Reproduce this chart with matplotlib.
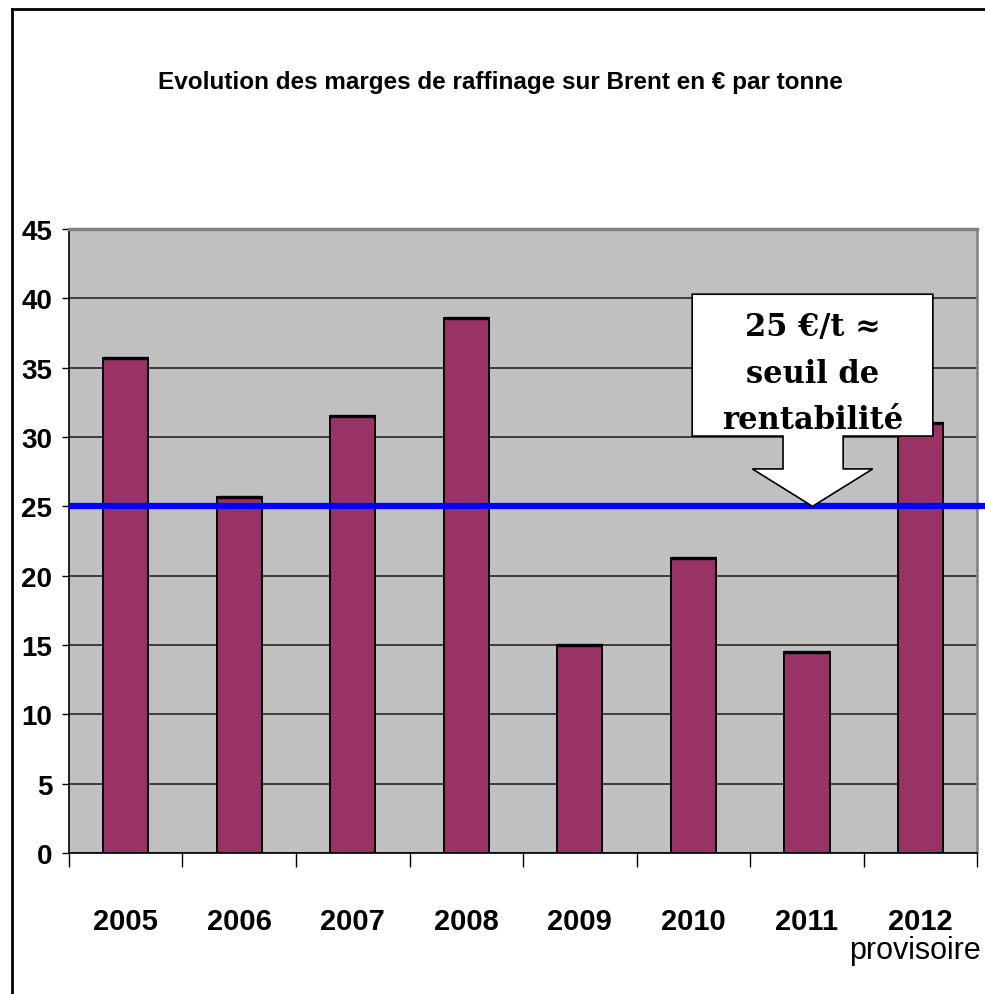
import numpy as np
import matplotlib
matplotlib.use("Agg")
import matplotlib.pyplot as plt
from matplotlib.patches import Polygon
from matplotlib.lines import Line2D

years = ['2005', '2006', '2007', '2008', '2009', '2010', '2011', '2012']
marges = [35.7, 25.7, 31.5, 38.6, 15.0, 21.3, 14.5, 31.0]
seuil = 25
y_ticks = list(range(0, 50, 5))

sans = ['Liberation Sans', 'DejaVu Sans']

fig = plt.figure(figsize=(9.85, 9.95), dpi=100)
ax = fig.add_axes([0.070, 0.1417, 0.922, 0.6271])

x = np.arange(len(years))
ax.set_facecolor('#C0C0C0')
ax.bar(x, marges, width=0.4, color='#993366', edgecolor='black', linewidth=1.4, zorder=3)
# thicker dark top on each bar
ax.hlines(marges, x - 0.2, x + 0.2, color='black', linewidth=2.4, zorder=4)

ax.set_xlim(-0.5, len(years) - 0.5)
ax.set_ylim(0, 45)
ax.set_yticks(y_ticks)
ax.set_yticklabels([str(v) for v in y_ticks], family=sans, fontweight='bold', fontsize=20)
ax.yaxis.grid(True, color='#1a1a1a', linewidth=1.1, zorder=1)
ax.set_axisbelow(True)

# category boundaries as ticks, labels in between
ax.set_xticks(np.arange(-0.5, len(years), 1.0))
ax.set_xticklabels([])
ax.set_xticks(x, minor=True)
ax.set_xticklabels(years, minor=True, family=sans, fontweight='bold', fontsize=21)
ax.tick_params(axis='x', which='major', length=10, width=1, direction='out')
ax.tick_params(axis='x', which='minor', length=0, pad=39)
ax.tick_params(axis='y', length=5, width=1, pad=7)

for s in ['left', 'bottom']:
    ax.spines[s].set_color('black')
    ax.spines[s].set_linewidth(1.2)
ax.spines['top'].set_color('#808080')
ax.spines['top'].set_linewidth(2.5)
ax.spines['right'].set_color('#808080')
ax.spines['right'].set_linewidth(1.8)

# 25 €/t line
ax.axhline(seuil, xmin=0.003, xmax=1.01, color='#0000FF', linewidth=4.5, zorder=5, clip_on=False)

# callout
callout = [(4.99, 40.3), (7.11, 40.3), (7.11, 30.07), (6.32, 30.07), (6.32, 27.7),
           (6.58, 27.7), (6.05, seuil), (5.52, 27.7), (5.79, 27.7), (5.79, 30.07),
           (4.99, 30.07)]
ax.add_patch(Polygon(callout, closed=True, facecolor='white', edgecolor='black',
                     linewidth=1.2, zorder=6))
ax.text(6.05, 34.6, '25 €/t ≈\nseuil de\nrentabilité', ha='center', va='center',
        family='DejaVu Serif', fontweight='bold', fontsize=22, linespacing=1.64, zorder=7)

ax.text(6.95, -7.55, 'provisoire', ha='center', va='baseline', family='Liberation Sans',
        fontsize=22)

fig.text(0.508, 0.917, 'Evolution des marges de raffinage sur Brent en € par tonne',
         ha='center', va='center', family=sans, fontweight='bold', fontsize=17.5)

# frame around the chart
fig.add_artist(Line2D([0.0122, 0.0122], [0, 0.99], color='black', linewidth=2))
fig.add_artist(Line2D([0.0122, 1.0], [0.99, 0.99], color='black', linewidth=2))

fig.savefig('out.png', dpi=100)
